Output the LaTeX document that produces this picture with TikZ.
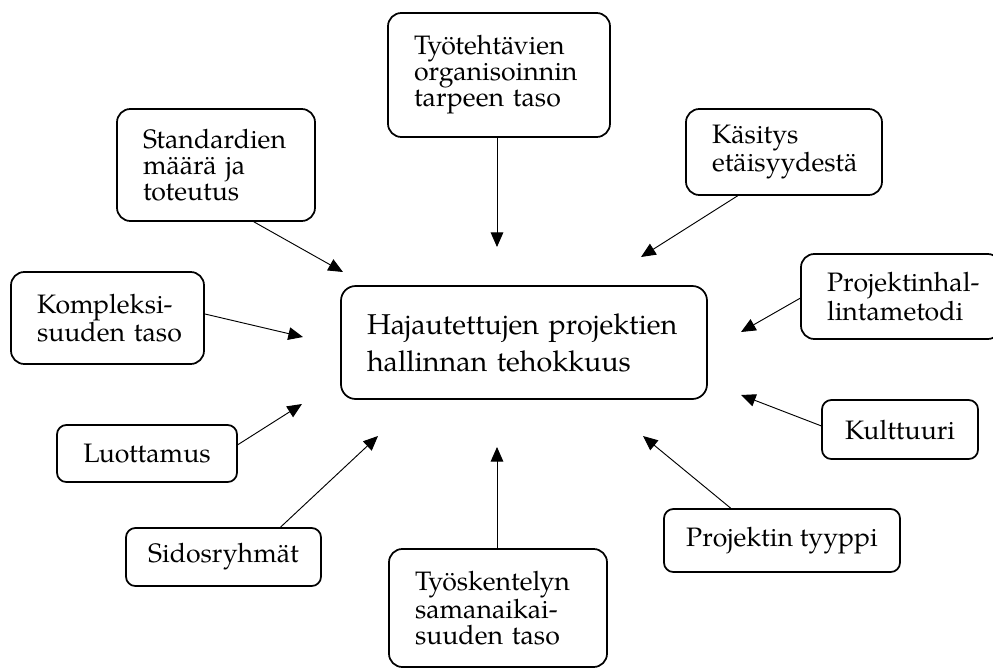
\documentclass[tikz,border=0pt]{standalone}
\usepackage{fontspec}
\setmainfont{TeX Gyre Pagella}
\usetikzlibrary{arrows.meta,calc}
\begin{document}
\begin{tikzpicture}[x=0.75pt,y=-0.75pt,
  box/.style={draw, line width=1.3pt, rounded corners=10pt, inner xsep=19.5pt, inner ysep=0pt,
    font=\fontsize{20pt}{19.5pt}\selectfont, align=left},
  sbox/.style={draw, line width=1.3pt, rounded corners=7pt, inner sep=0pt,
    font=\fontsize{20pt}{19.5pt}\selectfont, align=center},
  arr/.style={line width=0.7pt, -{Triangle[length=11pt,width=9.5pt]}}]
\useasboundingbox (0,0) rectangle (993,668);
% boxes
\node[box, text width=127.5pt, minimum height=93pt] (tyot) at (499,75)
  {\mbox{Työtehtävien}\\\mbox{organisoinnin}\\\mbox{tarpeen taso}};
\node[box, text width=109.5pt, minimum height=84pt] (std) at (216,165)
  {\mbox{Standardien}\\\mbox{määrä ja}\\\mbox{toteutus}};
\node[box, text width=108pt, minimum height=64.5pt] (kas) at (784,152)
  {\mbox{Käsitys}\\\mbox{etäisyydestä}};
\node[box, text width=105.75pt, minimum height=69pt] (komp) at (107.5,318)
  {\mbox{Kompleksi-}\\\mbox{suuden taso}};
\node[box, rounded corners=11pt, text width=235.5pt, minimum height=84.75pt,
  font=\fontsize{21.5pt}{27.75pt}\selectfont] (main) at (524,342.5)
  {\mbox{Hajautettujen projektien}\\\mbox{hallinnan tehokkuus}};
\node[box, text width=111pt, minimum height=63.75pt] (proj) at (901,296.5)
  {\mbox{Projektinhal-}\\\mbox{lintametodi}};
\node[sbox, minimum width=135pt, minimum height=42.75pt] (luot) at (147,453.5) {Luottamus};
\node[sbox, minimum width=117pt, minimum height=44.25pt] (kult) at (900,429.5) {Kulttuuri};
\node[sbox, minimum width=146.25pt, minimum height=43.5pt] (sid) at (223.5,557) {Sidosryhmät};
\node[sbox, minimum width=177pt, minimum height=47.25pt] (tyyp) at (782,540.5) {Projektin tyyppi};
\node[box, text width=124.5pt, minimum height=88.5pt] (tysk) at (498,608)
  {\mbox{Työskentelyn}\\\mbox{samanaikai-}\\\mbox{suuden taso}};
% arrow tips
\coordinate (t1) at (497,247);
\coordinate (t2) at (343,272);
\coordinate (t3) at (641,257);
\coordinate (t4) at (303,337);
\coordinate (t5) at (741,332);
\coordinate (t6) at (302,404);
\coordinate (t7) at (378,436);
\coordinate (t8) at (497,447);
\coordinate (t9) at (741,395);
\coordinate (t10) at (643,436);
% arrows
\draw[arr] (tyot.south -| t1) -- (t1);
\draw[arr] ($(std.south west)!0.69!(std.south east)$) -- (t2);
\draw[arr] ($(kas.south west)!0.265!(kas.south east)$) -- (t3);
\draw[arr] ($(komp.north east)!0.457!(komp.south east)$) -- (t4);
\draw[arr] ($(proj.north west)!0.52!(proj.south west)$) -- (t5);
\draw[arr] ($(luot.north east)!0.35!(luot.south east)$) -- (t6);
\draw[arr] ($(sid.north west)!0.79!(sid.north east)$) -- (t7);
\draw[arr] (tysk.north -| t8) -- (t8);
\draw[arr] ($(kult.north west)!0.44!(kult.south west)$) -- (t9);
\draw[arr] ($(tyyp.north west)!0.284!(tyyp.north east)$) -- (t10);
\end{tikzpicture}
\end{document}
